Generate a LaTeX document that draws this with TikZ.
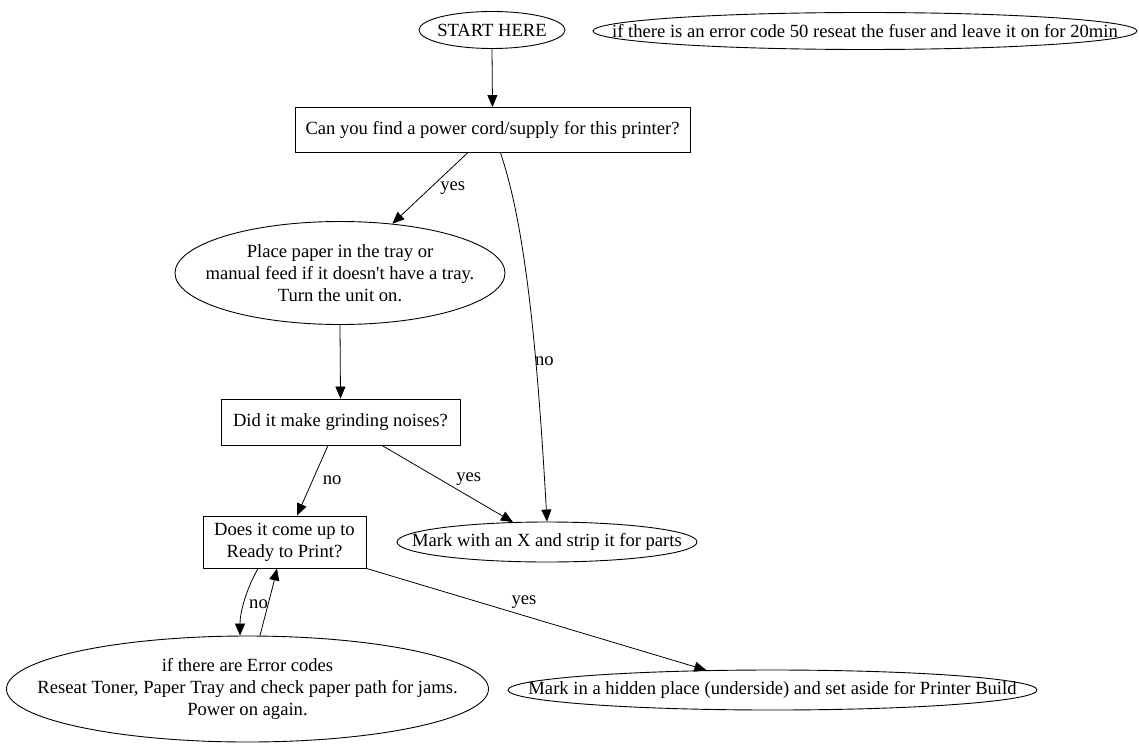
\documentclass[tikz,border=0pt]{standalone}
\usepackage{fontspec}
\setmainfont{Liberation Serif}[Ligatures=TeXOff]
\usetikzlibrary{shapes.geometric,arrows.meta}
\begin{document}
\begin{tikzpicture}[x=1pt,y=-1pt,
  every node/.style={font=\fontsize{18.6}{21.8}\selectfont, inner sep=0pt, align=center},
  oval/.style={draw, ellipse, line width=0.9pt},
  boxn/.style={draw, rectangle, line width=0.9pt},
  conn/.style={draw, line width=0.8pt, -{Triangle[length=12pt,width=10pt]}}]
\useasboundingbox (0,0) rectangle (1139,749);
\node[oval, minimum width=146, minimum height=37, label={center:START HERE}] (start) at (492,30) {};
\node[oval, minimum width=544, minimum height=37, label={center:if there is an error code 50 reseat the fuser and leave it on for 20min}] (note) at (865,31) {};
\node[boxn, minimum width=395, minimum height=45] (q1) at (492.5,130) {Can you find a power cord/supply for this printer?};
\node[oval, minimum width=330, minimum height=103, label={center:{Place paper in the tray or\\manual feed if it doesn't have a tray.\\Turn the unit on.}}] (place) at (340,273) {};
\node[boxn, minimum width=239, minimum height=46] (q2) at (340.5,422) {Did it make grinding noises?};
\node[boxn, minimum width=163, minimum height=52] (q3) at (284.5,542) {Does it come up to\\Ready to Print?};
\node[oval, minimum width=300, minimum height=40, label={center:Mark with an X and strip it for parts}] (mx) at (547,542) {};
\node[oval, minimum width=482, minimum height=106, label={center:{if there are Error codes\\Reseat Toner, Paper Tray and check paper path for jams.\\Power on again.}}] (err) at (247.5,689) {};
\node[oval, minimum width=529, minimum height=40, label={center:Mark in a hidden place (underside) and set aside for Printer Build}] (mh) at (772.5,690) {};

\draw[conn] (start.south) -- (q1.north);
\draw[conn] ([xshift=-25]q1.south) -- node[pos=0.5, right=10pt] {yes} (place);
\draw[conn] ([xshift=8]q1.south) .. controls (525,225) and (537,345) .. node[pos=0.66, anchor=west, xshift=-1pt] {no} (mx.north);
\draw[conn] (place.south) -- (q2.north);
\draw[conn] ([xshift=-12.5]q2.south) -- node[midway, right=10pt] {no} ([xshift=12.5]q3.north);
\draw[conn] ([xshift=41.5]q2.south) -- node[pos=0.55, above right=2pt] {yes} (mx);
\draw[conn] (q3.south east) -- node[pos=0.42, above right=2pt] {yes} (mh);
\draw[conn] ([xshift=-26.5]q3.south) .. controls (246,590) and (240,612) .. ([xshift=-7.5]err.north);
\draw[conn] ([xshift=12.5]err.north) .. controls (266,612) and (272,590) .. ([xshift=-7.5]q3.south);
\node (nolbl) at (258.5,604) {no};
\end{tikzpicture}
\end{document}
